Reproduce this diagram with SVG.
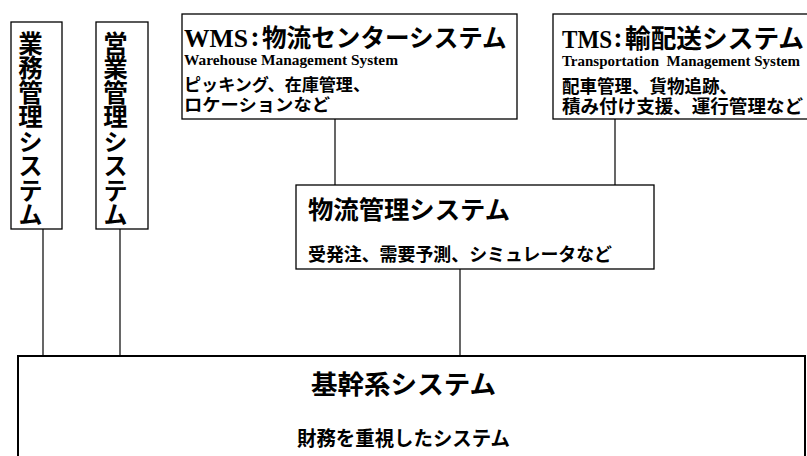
<svg xmlns="http://www.w3.org/2000/svg" width="807" height="456" viewBox="0 0 807 456">
<style>
.box{fill:#fff;stroke:#000;stroke-width:1.3}
.base{fill:#fff;stroke:#000;stroke-width:2}
.con{stroke:#000;stroke-width:1.2;fill:none}
.jp{font-family:"Noto Sans CJK JP","Noto Sans CJK SC",sans-serif;font-weight:bold;fill:#000}
.en{font-family:"Liberation Serif",serif;fill:#000}
.vt{font-size:24.5px;writing-mode:vertical-rl}
</style>
<rect width="807" height="456" fill="#fff"/>
<g id="connectors">
<line class="con" x1="43" y1="229" x2="43" y2="356"/>
<line class="con" x1="120" y1="229" x2="120" y2="356"/>
<line class="con" x1="335" y1="119" x2="335" y2="185"/>
<line class="con" x1="615" y1="119" x2="615" y2="185"/>
<line class="con" x1="460" y1="269" x2="460" y2="356"/>
</g>
<g id="gyomu">
<rect class="box" x="11" y="22" width="51" height="207"/>
<text class="jp vt" x="30.5" y="31">業務管理システム</text>
</g>
<g id="eigyo">
<rect class="box" x="96" y="22" width="52" height="207"/>
<text class="jp vt" x="115.5" y="31">営業管理システム</text>
</g>
<g id="wms">
<rect class="box" x="182" y="14" width="335" height="105"/>
<text class="en" x="184" y="47" font-size="26" font-weight="bold" textLength="64" lengthAdjust="spacingAndGlyphs">WMS</text>
<text class="jp" x="251" y="46" font-size="24">:</text>
<text class="jp" x="262" y="47" font-size="24.6">物流センターシステム</text>
<text class="en" x="184" y="65" font-size="15" font-weight="bold" textLength="214" lengthAdjust="spacingAndGlyphs">Warehouse Management System</text>
<text class="jp" font-size="17"><tspan x="184" y="91" textLength="186" lengthAdjust="spacingAndGlyphs">ピッキング、在庫管理、</tspan><tspan x="184" y="111" textLength="146" lengthAdjust="spacingAndGlyphs">ロケーションなど</tspan></text>
</g>
<g id="tms">
<rect class="box" x="553" y="14" width="260" height="105"/>
<text class="en" x="562" y="48" font-size="26" font-weight="bold" textLength="50" lengthAdjust="spacingAndGlyphs">TMS</text>
<text class="jp" x="614" y="47" font-size="24">:</text>
<text class="jp" x="625" y="48" font-size="25.7">輸配送システム</text>
<text class="en" x="562" y="66" font-size="15" font-weight="bold" textLength="238" lengthAdjust="spacingAndGlyphs" xml:space="preserve">Transportation  Management System</text>
<text class="jp" font-size="18"><tspan x="562" y="93" textLength="175" lengthAdjust="spacingAndGlyphs">配車管理、貨物追跡、</tspan><tspan x="562" y="113" textLength="241" lengthAdjust="spacingAndGlyphs">積み付け支援、運行管理など</tspan></text>
</g>
<g id="butsuryu">
<rect class="box" x="296" y="185" width="358" height="84"/>
<text class="jp" x="308" y="219" font-size="25" textLength="202" lengthAdjust="spacingAndGlyphs">物流管理システム</text>
<text class="jp" x="308" y="261" font-size="18" textLength="304" lengthAdjust="spacingAndGlyphs">受発注、需要予測、シミュレータなど</text>
</g>
<g id="kikan">
<rect class="base" x="18" y="356" width="787" height="120"/>
<text class="jp" x="311" y="394" font-size="26" textLength="185" lengthAdjust="spacingAndGlyphs">基幹系システム</text>
<text class="jp" x="297" y="446" font-size="20" textLength="213" lengthAdjust="spacingAndGlyphs">財務を重視したシステム</text>
</g>
</svg>
